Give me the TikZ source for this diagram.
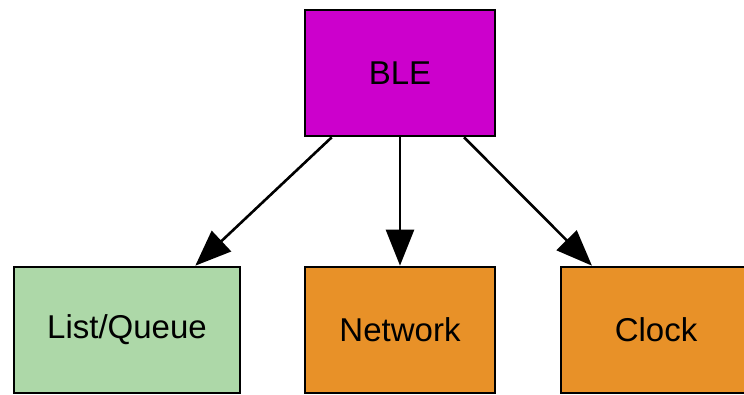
\documentclass[tikz,border=0pt]{standalone}
\usepackage{fontspec}
\setmainfont{Liberation Sans}
\usepackage{xcolor}
\usepackage{tikz}
\usetikzlibrary{arrows.meta}
\usetikzlibrary{positioning}
\definecolor{blemagenta}{RGB}{204,0,204}
\definecolor{listgreen}{RGB}{173,216,168}
\definecolor{modorange}{RGB}{232,145,40}

\begin{document}
\begin{tikzpicture}[x=1pt,y=1pt,
	modbox/.style={draw=black,line width=2.6pt,minimum width=190pt,minimum height=126pt,font=\fontsize{33}{38}\selectfont},
	dep/.style={line width=2.6pt,-{Triangle[length=36pt,width=28pt]}}]
	\useasboundingbox (0,0) rectangle (744,395);

	\node [modbox,fill=blemagenta] (ble) at (400,322) {BLE};
	\node [modbox,fill=listgreen,minimum width=226pt] (list) at (127,65) {List/Queue};
	\node [modbox,fill=modorange] (net) at (400,65) {Network};
	\node [modbox,fill=modorange] (clock) at (656,65) {Clock};

	% dependencies
	\draw[dep] (ble)--(list);
	\draw[dep] (ble)--(net);
	\draw[dep] (ble)--(clock);
\end{tikzpicture}
\end{document}
